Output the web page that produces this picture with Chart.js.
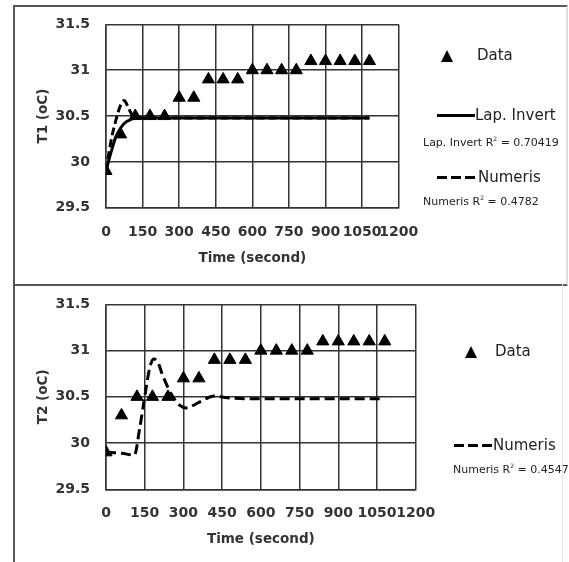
<!DOCTYPE html>
<html>
<head>
<meta charset="utf-8">
<script src="https://cdn.jsdelivr.net/npm/chart.js@4.4.1/dist/chart.umd.min.js"></script>
<style>
	body { margin: 0; background: #fff; width: 569px; height: 562px; overflow: hidden; position: relative; font-family: "DejaVu Sans", sans-serif; }
	canvas { position: absolute; left: 0; }
	.panel { position: absolute; box-sizing: border-box; }
	.txt { position: absolute; color: #222; white-space: nowrap; line-height: 1; }
	.big { font-size: 15px; }
	.small { font-size: 11px; }
	.tri { position: absolute; width: 0; height: 0; border-left: 6.5px solid transparent; border-right: 6.5px solid transparent; border-bottom: 12px solid #000; }
	.solid { position: absolute; height: 3px; background: #000; }
	.dash { position: absolute; height: 3px; background: repeating-linear-gradient(to right, #000 0 10px, transparent 10px 14px); }
</style>
</head>
<body>
<div class="panel" style="left:13px; top:5px; width:555px; height:281px; border:2px solid #555; border-right-color:#ddd;"></div>
<div class="panel" style="left:13px; top:284px; width:550px; height:290px; border-left:2px solid #555; border-right:1px solid #e4e4e4;"></div>

<canvas id="chartT1" width="569" height="280" style="top:0px;"></canvas>
<canvas id="chartT2" width="569" height="282" style="top:280px;"></canvas>

<!-- legend top -->
<div class="tri" style="left:441px; top:50px;"></div>
<div class="txt big" style="left:477px; top:48px;">Data</div>
<div class="solid" style="left:437px; top:114px; width:38px;"></div>
<div class="txt big" style="left:475px; top:108px;">Lap. Invert</div>
<div class="txt small" style="left:423px; top:136px;">Lap. Invert R<sup style="font-size:6px">2</sup> = 0.70419</div>
<div class="dash" style="left:437px; top:176px; width:38px;"></div>
<div class="txt big" style="left:478px; top:170px;">Numeris</div>
<div class="txt small" style="left:423px; top:195px;">Numeris R<sup style="font-size:6px">2</sup> = 0.4782</div>

<!-- legend bottom -->
<div class="tri" style="left:465px; top:346px;"></div>
<div class="txt big" style="left:495px; top:344px;">Data</div>
<div class="dash" style="left:454px; top:444px; width:38px;"></div>
<div class="txt big" style="left:493px; top:438px;">Numeris</div>
<div class="txt small" style="left:453px; top:463px;">Numeris R<sup style="font-size:6px">2</sup> = 0.4547</div>

<script>
// measured data (time in seconds, temperature in oC)
const dataTime = [0, 60, 120, 180, 240, 300, 360, 420, 480, 540, 600, 660, 720, 780, 840, 900, 960, 1020, 1080];
const dataT1 = [29.9, 30.3, 30.5, 30.5, 30.5, 30.7, 30.7, 30.9, 30.9, 30.9, 31.0, 31.0, 31.0, 31.0, 31.1, 31.1, 31.1, 31.1, 31.1];
const dataT2 = [29.9, 30.3, 30.5, 30.5, 30.5, 30.7, 30.7, 30.9, 30.9, 30.9, 31.0, 31.0, 31.0, 31.0, 31.1, 31.1, 31.1, 31.1, 31.1];

// Lap. Invert model, T1
const lapTime = [0, 20, 40, 60, 80, 100, 120, 240, 360, 480, 600, 720, 840, 960, 1080];
const lapT1 = [29.9, 30.1, 30.27, 30.37, 30.43, 30.46, 30.48, 30.48, 30.48, 30.48, 30.48, 30.48, 30.48, 30.48, 30.48];

// Numeris model, T1
const numTime1 = [0, 20, 40, 60, 75, 90, 105, 120, 240, 360, 480, 600, 720, 840, 960, 1080];
const numT1 = [29.9, 30.22, 30.45, 30.62, 30.67, 30.6, 30.52, 30.48, 30.48, 30.48, 30.48, 30.48, 30.48, 30.48, 30.48, 30.48];

// Numeris model, T2
const numTime2 = [0, 60, 110, 130, 150, 170, 185, 200, 220, 255, 285, 310, 360, 420, 470, 540, 660, 780, 900, 1080];
const numT2 = [29.9, 29.89, 29.87, 30.15, 30.5, 30.82, 30.91, 30.88, 30.73, 30.52, 30.41, 30.38, 30.44, 30.51, 30.49, 30.48, 30.48, 30.48, 30.48, 30.48];

const xTicks = [0, 150, 300, 450, 600, 750, 900, 1050, 1200];
const yTicks = [29.5, 30, 30.5, 31, 31.5];

function pts(x, y) {
	return x.map((v, i) => ({x: v, y: y[i]}));
}

const tickFont = {family: 'DejaVu Sans', size: 14, weight: 'bold'};
const titleFont = {family: 'DejaVu Sans', size: 13.5, weight: 'bold'};
const textColor = '#333';
const gridColor = '#333';

function makeChart(id, yTitle, datasets, padRight, xHeight, xTitlePad) {
	let ctx = document.getElementById(id).getContext('2d');
	return new Chart(ctx, {
		type: 'scatter',
		data: {datasets: datasets},
		options: {
			responsive: false,
			animation: false,
			devicePixelRatio: 1,
			layout: {padding: {left: 0, top: 23.3, right: padRight, bottom: 0}},
			plugins: {legend: {display: false}, tooltip: {enabled: false}},
			scales: {
				x: {
					type: 'linear',
					min: 0,
					max: 1200,
					afterBuildTicks: (s) => { s.ticks = xTicks.map(v => ({value: v})); },
					afterFit: (s) => { s.height = xHeight; },
					ticks: {autoSkip: false, maxRotation: 0, font: tickFont, color: textColor, padding: 16, callback: (v) => String(v)},
					grid: {color: gridColor, lineWidth: 1.5, drawTicks: false},
					border: {color: gridColor, width: 1.5},
					title: {display: true, text: 'Time (second)', font: titleFont, color: textColor, padding: {top: 0, bottom: xTitlePad}}
				},
				y: {
					min: 29.5,
					max: 31.5,
					afterBuildTicks: (s) => { s.ticks = yTicks.map(v => ({value: v})); },
					afterFit: (s) => { s.width = 106; },
					ticks: {font: tickFont, color: textColor, padding: 16, callback: (v) => String(v)},
					grid: {color: gridColor, lineWidth: 1.5, drawTicks: false},
					border: {color: gridColor, width: 1.5},
					title: {display: true, text: yTitle, font: titleFont, color: textColor, padding: {top: 35, bottom: 0}}
				}
			}
		}
	});
}

const triStyle = {pointStyle: 'triangle', pointRadius: 7, backgroundColor: '#000', borderColor: '#000', showLine: false};
const lineStyle = {showLine: true, pointRadius: 0, borderColor: '#000', borderWidth: 3, cubicInterpolationMode: 'monotone', fill: false};

makeChart('chartT1', 'T1 (oC)', [
	Object.assign({label: 'Lap. Invert', data: pts(lapTime, lapT1)}, lineStyle),
	Object.assign({label: 'Numeris', data: pts(numTime1, numT1), borderDash: [8, 4]}, lineStyle),
	Object.assign({label: 'Data', data: pts(dataTime, dataT1)}, triStyle)
], 170.3, 72.3, 13.6);

makeChart('chartT2', 'T2 (oC)', [
	Object.assign({label: 'Numeris', data: pts(numTime2, numT2), borderDash: [10, 5]}, lineStyle),
	Object.assign({label: 'Data', data: pts(dataTime, dataT2)}, triStyle)
], 153.3, 72.7, 14.6);
</script>
</body>
</html>
